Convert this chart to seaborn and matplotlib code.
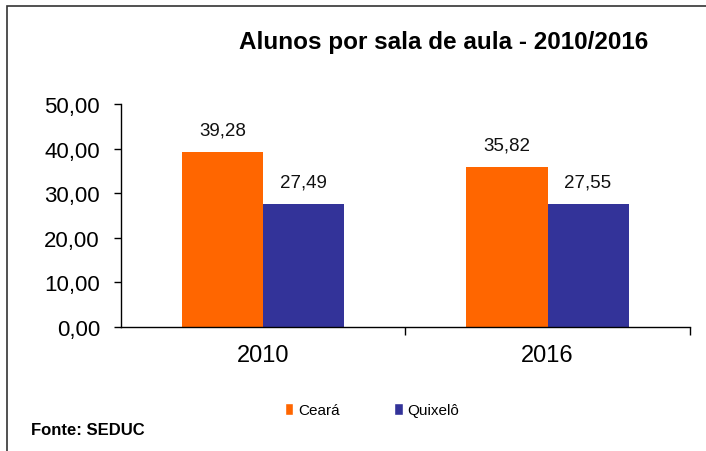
import pandas as pd
import numpy as np
import matplotlib
matplotlib.use('Agg')
import matplotlib.pyplot as plt
import seaborn as sns
from matplotlib.patches import Rectangle, Patch
from matplotlib.ticker import FuncFormatter, FixedLocator

# data
anos = ['2010', '2016']
ceara = [39.28, 35.82]
quixelo = [27.49, 27.55]
series = ['Ceará', 'Quixelô']
cores = ['#FF6600', '#333399']

df = pd.DataFrame({
    'ano': anos * 2,
    'serie': [series[0]] * len(anos) + [series[1]] * len(anos),
    'valor': ceara + quixelo,
})

sns.set_style('white')
plt.rcParams['font.family'] = ['Liberation Sans', 'DejaVu Sans']
plt.rcParams['text.color'] = 'black'

fig = plt.figure(figsize=(7.06, 4.52), dpi=100)
ax = fig.add_axes([0.171, 0.274, 0.806, 0.494])

sns.barplot(data=df, x='ano', y='valor', hue='serie', palette=cores,
            width=0.57, saturation=1, ax=ax, legend=False,
            linewidth=0, edgecolor='none')

# value labels
for cont in ax.containers:
    for bar in cont:
        h = bar.get_height()
        ax.annotate(f'{h:.2f}'.replace('.', ','),
                    (bar.get_x() + bar.get_width() / 2, h),
                    xytext=(0, 16), textcoords='offset points',
                    ha='center', va='center', fontsize=13.5, color='#111111')

ax.set_ylim(0, 50)
ax.set_xlim(-0.5, 1.5)
ax.set_yticks(np.arange(0, 51, 10))
ax.yaxis.set_major_formatter(FuncFormatter(lambda v, p: f'{v:.2f}'.replace('.', ',')))
ax.tick_params(axis='y', labelsize=16, length=5, width=1, direction='out',
               left=True, colors='black', pad=10)
ax.tick_params(axis='x', which='major', labelsize=17, length=0, pad=12, colors='black')
ax.xaxis.set_minor_locator(FixedLocator([0.5, 1.5]))
ax.tick_params(axis='x', which='minor', length=6, width=1, direction='out', bottom=True,
               colors='black')
ax.set_xlabel('')
ax.set_ylabel('')
for s in ['top', 'right']:
    ax.spines[s].set_visible(False)
for s in ['left', 'bottom']:
    ax.spines[s].set_color('black')
    ax.spines[s].set_linewidth(1)

fig.text(0.628, 0.905, 'Alunos por sala de aula - 2010/2016', ha='center', va='center',
         fontsize=17.5, fontweight='bold', color='black')

# legend
handles = [Patch(facecolor=c, label=l) for c, l in zip(cores, series)]
fig.legend(handles=handles, loc='center', bbox_to_anchor=(0.527, 0.09), ncol=2,
           frameon=False, fontsize=11, handlelength=0.55, handleheight=0.8,
           handletextpad=0.3, columnspacing=3.6)

fig.text(0.044, 0.048, 'Fonte: SEDUC', ha='left', va='center', fontsize=12,
         fontweight='bold', color='black')

# outer border (left and top visible)
fig.patches.append(Rectangle((7 / 706, -0.1), 1.2, 1.1 - 7 / 452, transform=fig.transFigure,
                             fill=False, edgecolor='#333333', linewidth=1.2))

fig.savefig('out.png', dpi=100)
